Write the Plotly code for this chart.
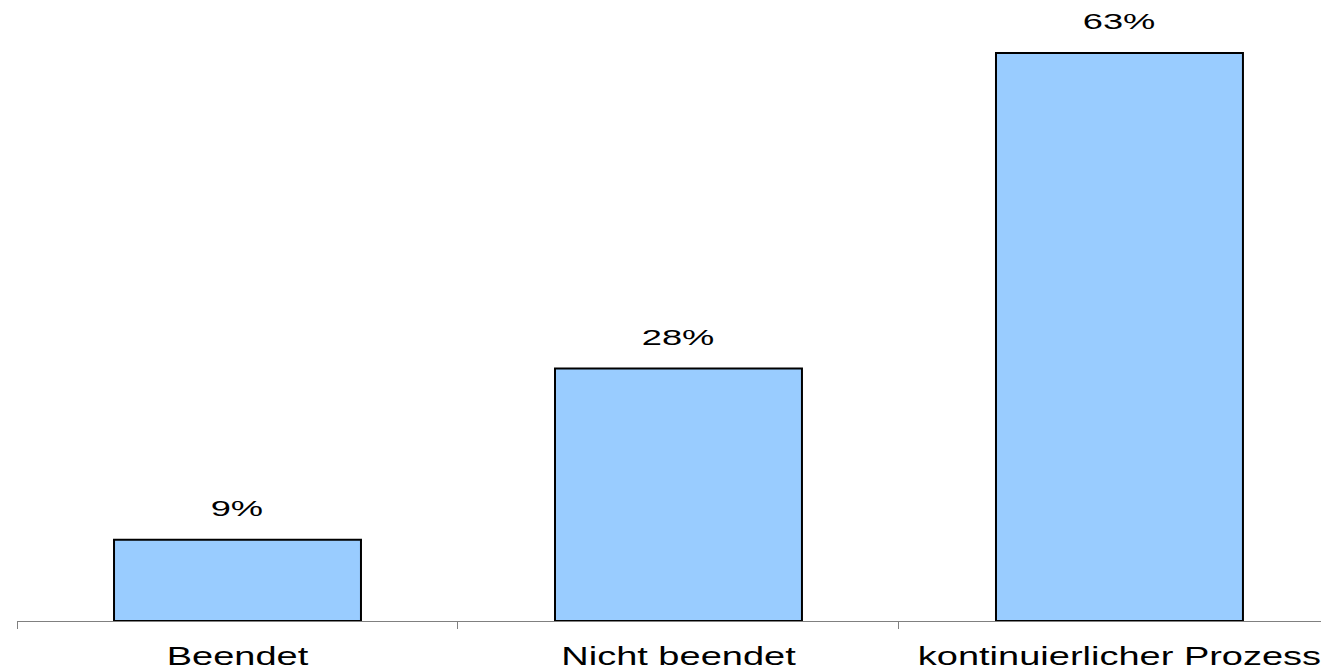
import plotly.graph_objects as go

categories = ["Beendet", "Nicht beendet", "kontinuierlicher Prozess"]
values = [9, 28, 63]
labels = ["9%", "28%", "63%"]

FONT = "Liberation Sans, Arial, sans-serif"

fig = go.Figure()
fig.add_trace(go.Bar(
    x=categories, y=values,
    marker=dict(color="#99CCFF", line=dict(color="#000000", width=2)),
    width=0.56,
    hoverinfo="skip",
))
for c, v, t in zip(categories, values, labels):
    fig.add_annotation(x=c, y=v, text=t, showarrow=False, yanchor="bottom",
                       yshift=17, font=dict(family=FONT, size=22, color="#000000"))

fig.update_layout(
    width=1321, height=672,
    margin=dict(l=17, r=0, t=0, b=51),
    paper_bgcolor="white", plot_bgcolor="white",
    showlegend=False,
    bargap=0.44,
    xaxis=dict(
        type="category",
        range=[-0.5, 2.457],
        showline=True, linecolor="#808080", linewidth=1,
        ticks="outside", tickson="boundaries", ticklen=7, tickcolor="#808080",
        showgrid=False, zeroline=False,
        tickfont=dict(family=FONT, size=25, color="#000000"),
        ticklabelstandoff=13,
    ),
    yaxis=dict(range=[0, 68.88], visible=False, showgrid=False, zeroline=False),
)

# The reference text is rendered horizontally widened; reproduce that by
# scaling the real SVG text elements along x around their own anchor.
post_js = """
var gd = document.getElementById('{plot_id}');
function stretchOne(t, s) {
  var cur = t.getAttribute('transform') || '';
  if (cur.indexOf('scale(') >= 0) return;
  var cx = parseFloat(t.getAttribute('x')) || 0;
  t.setAttribute('transform', cur + ' translate(' + cx + ',0) scale(' + s + ',1) translate(' + (-cx) + ',0)');
}
function stretchAll() {
  gd.querySelectorAll('.xtick text').forEach(function (t) { stretchOne(t, 1.52); });
  gd.querySelectorAll('.annotation-text').forEach(function (t) { stretchOne(t, 1.65); });
}
stretchAll();
if (gd.on) { gd.on('plotly_afterplot', stretchAll); }
"""

fig.write_html("out.html", post_script=post_js)
